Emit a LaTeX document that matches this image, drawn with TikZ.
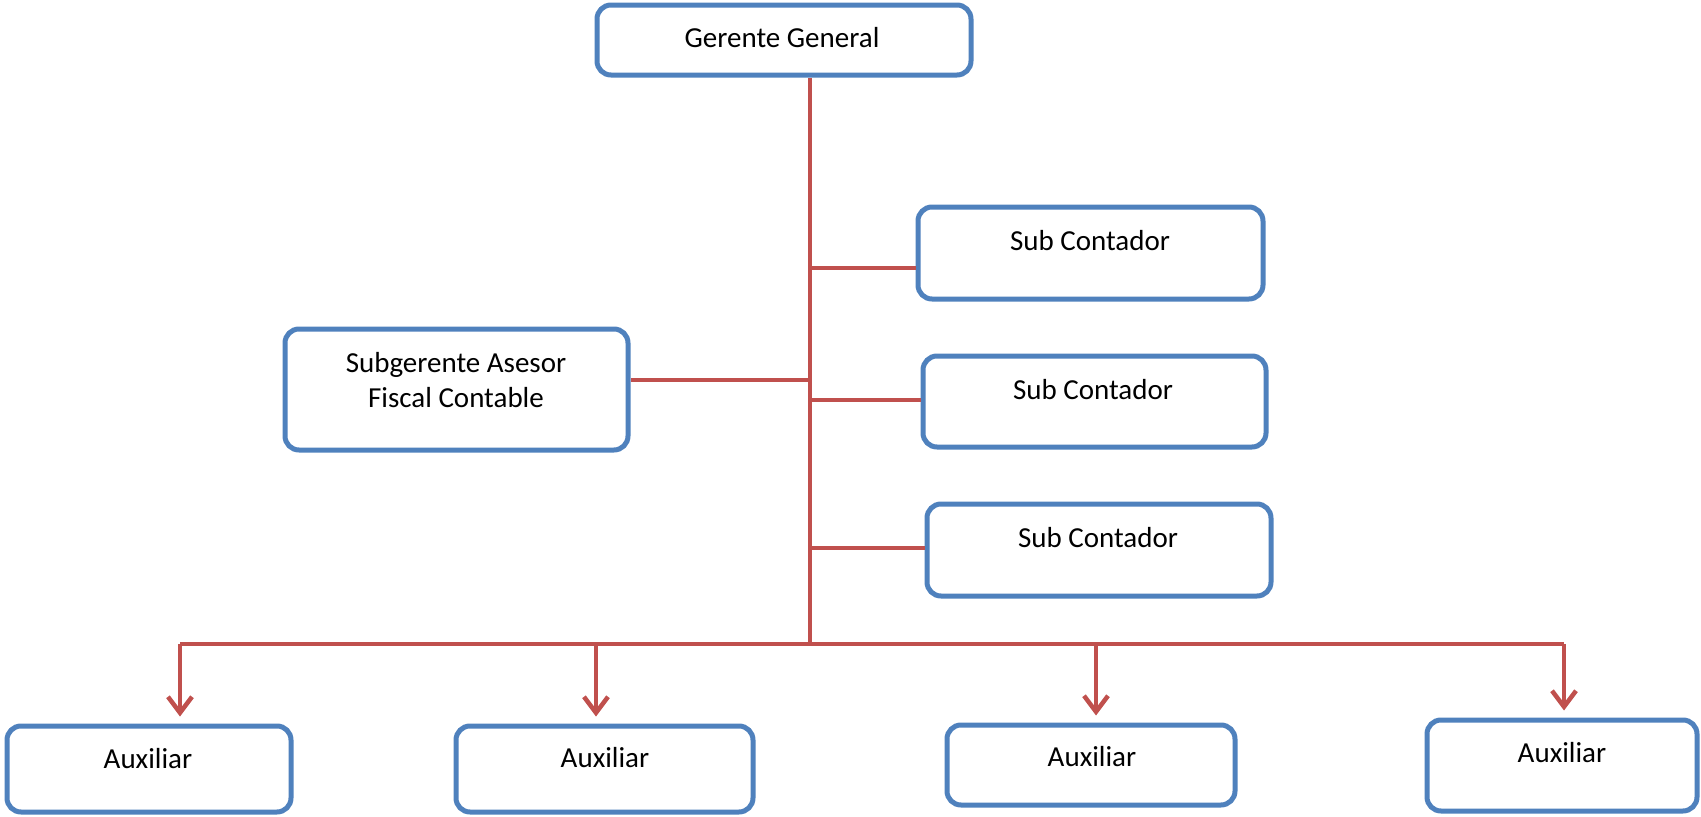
\documentclass[tikz,border=0pt]{standalone}
\usepackage{fontspec}
\setmainfont{Carlito}
\usetikzlibrary{arrows.meta}
\definecolor{boxblue}{HTML}{4F81BD}
\definecolor{linered}{HTML}{C0504D}
\begin{document}
\begin{tikzpicture}[x=1pt,y=-1pt,
  box/.style={draw=boxblue, line width=5pt, rounded corners=14pt, fill=white, inner sep=0pt},
  txt/.style={font=\fontsize{29}{35}\selectfont, inner sep=0pt, text=black},
  link/.style={draw=linered, line width=4.5pt},
  arr/.style={link, -{Straight Barb[length=16pt,width=24pt]}, shorten >=7pt}]
\useasboundingbox (0,0) rectangle (1701,817);
% boxes
\node[box, minimum width=374pt, minimum height=70pt] (g) at (784,40) {};
\node[box, minimum width=343pt, minimum height=121pt] (s) at (456.5,389.5) {};
\node[box, minimum width=345pt, minimum height=92pt] (sc1) at (1090.5,253) {};
\node[box, minimum width=343pt, minimum height=91pt] (sc2) at (1094.5,401.5) {};
\node[box, minimum width=344pt, minimum height=92pt] (sc3) at (1099,550) {};
\node[box, minimum width=284pt, minimum height=86pt] (a1) at (149,769) {};
\node[box, minimum width=297pt, minimum height=86pt] (a2) at (604.5,769) {};
\node[box, minimum width=288pt, minimum height=80pt] (a3) at (1091,765) {};
\node[box, minimum width=270pt, minimum height=91pt] (a4) at (1562,765.5) {};
% texts
\node[txt, anchor=base] (gt) at (782,47) {Gerente General};
\node[txt, align=center] (st) at (456,380) {Subgerente Asesor\\Fiscal Contable};
\node[txt, anchor=base] (sc1t) at (1090,250) {Sub Contador};
\node[txt, anchor=base] (sc2t) at (1093,399) {Sub Contador};
\node[txt, anchor=base] (sc3t) at (1098,547) {Sub Contador};
\node[txt, anchor=base] (a1t) at (148,768) {Auxiliar};
\node[txt, anchor=base] (a2t) at (605,767) {Auxiliar};
\node[txt, anchor=base] (a3t) at (1092,766) {Auxiliar};
\node[txt, anchor=base] (a4t) at (1562,762) {Auxiliar};
% connectors
\coordinate (tb) at (810,644);
\coordinate (t1) at (810,268);
\coordinate (t2) at (810,400);
\coordinate (t3) at (810,548);
\coordinate (ts) at (810,380);
\coordinate (b1) at (180,644);
\coordinate (b2) at (596,644);
\coordinate (b3) at (1096,644);
\coordinate (b4) at (1564,644);
\draw[link] (g.south -| tb) -- (tb);
\draw[link] (t1) -- (t1 -| sc1.west);
\draw[link] (t2) -- (t2 -| sc2.west);
\draw[link] (t3) -- (t3 -| sc3.west);
\draw[link] (ts) -- (ts -| s.east);
\draw[link] (b1) -- (b4);
\draw[arr] (b1) -- (b1 |- a1.north);
\draw[arr] (b2) -- (b2 |- a2.north);
\draw[arr] (b3) -- (b3 |- a3.north);
\draw[arr] (b4) -- (b4 |- a4.north);
\end{tikzpicture}
\end{document}
